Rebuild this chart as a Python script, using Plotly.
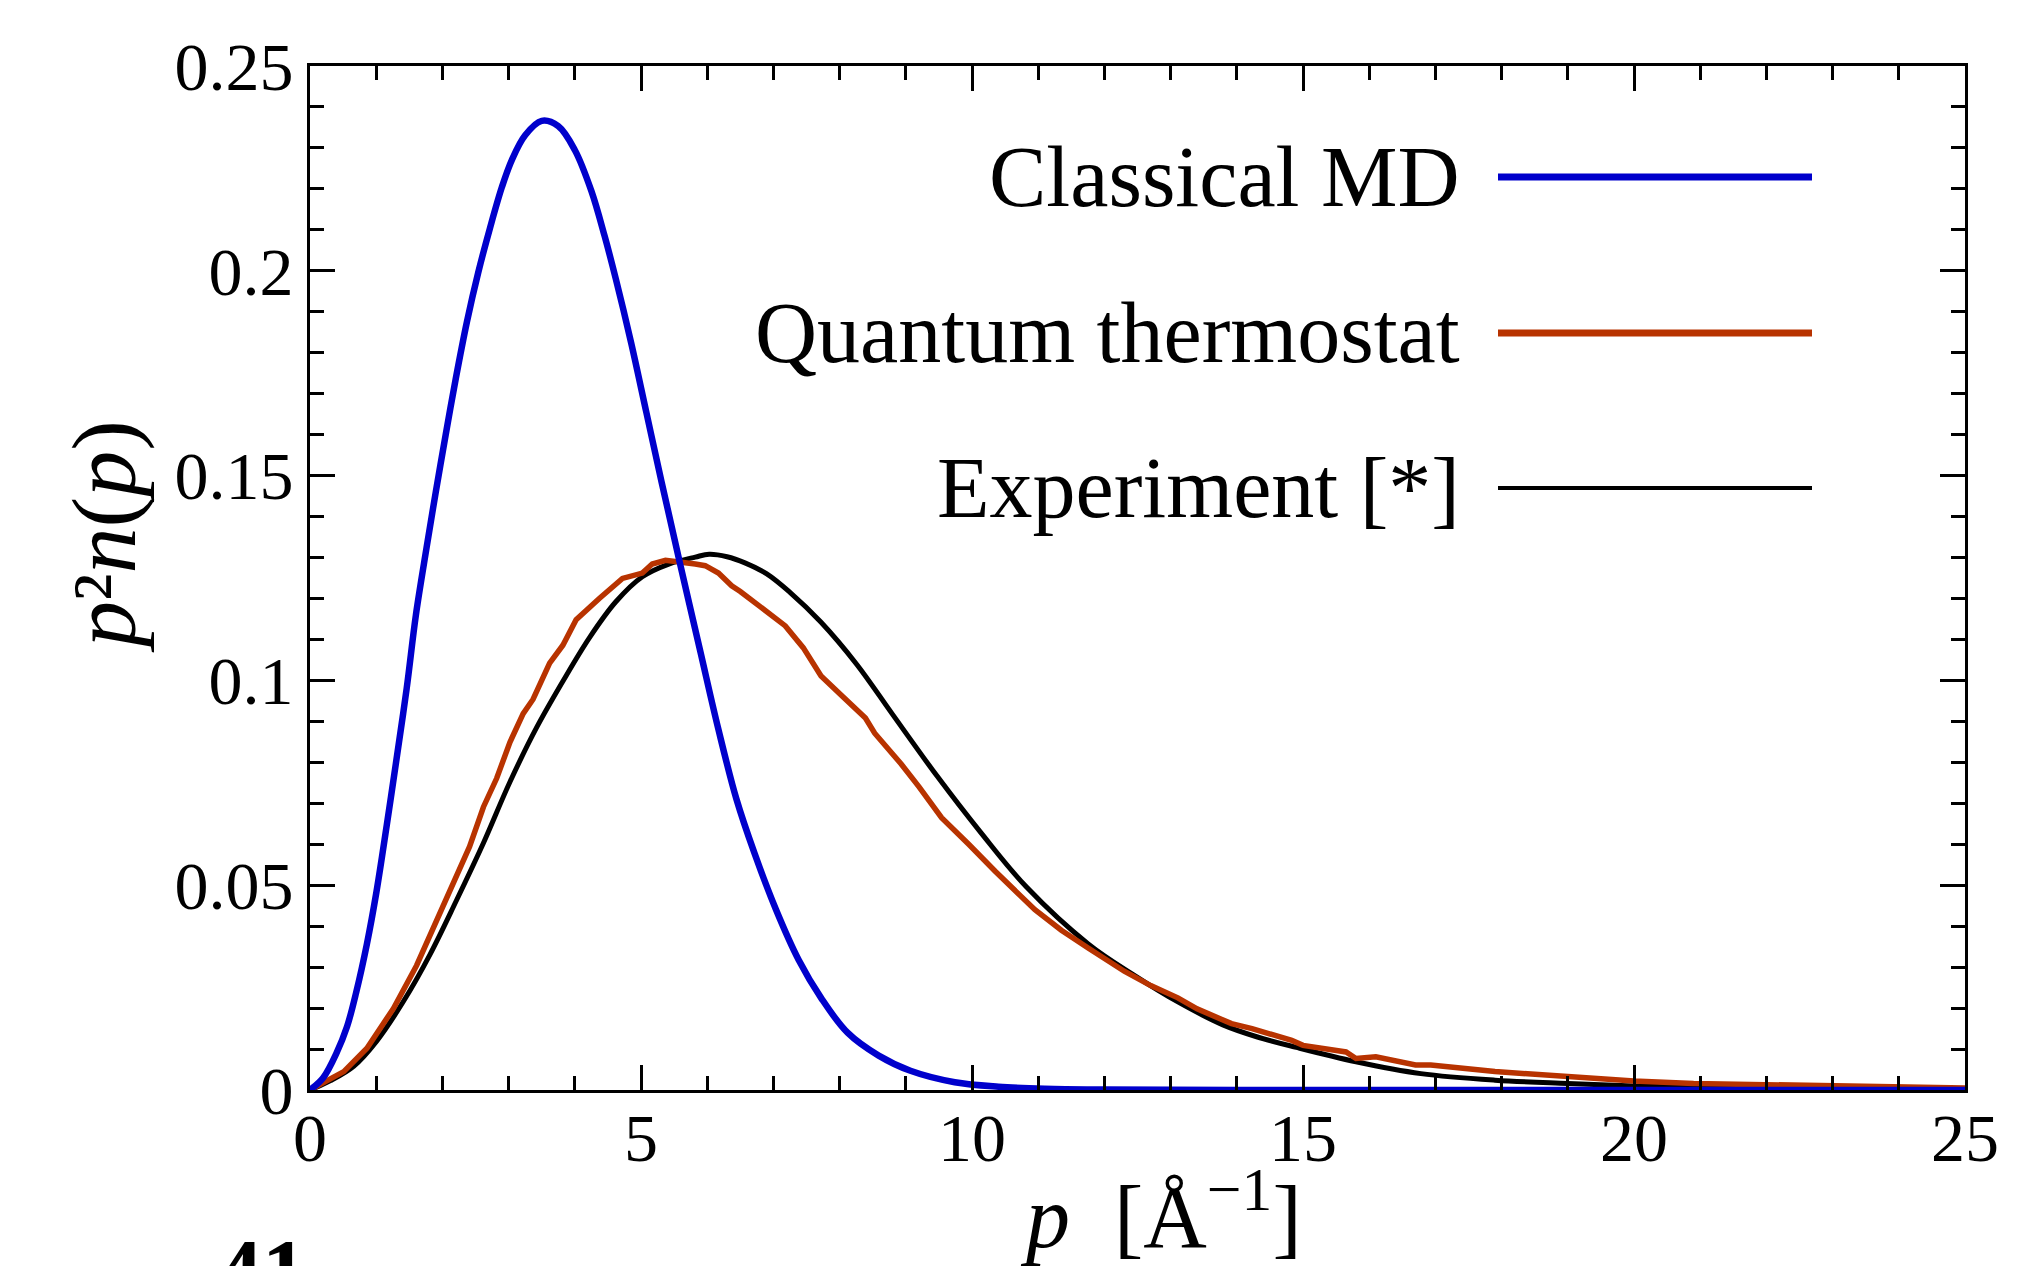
import plotly.graph_objects as go

# ---- data ----
classical_x = [0, 0.2, 0.4, 0.56, 0.7, 0.86, 1.0, 1.16, 1.3, 1.46, 1.6, 1.76, 1.9, 2.05, 2.2, 2.37,
               2.54, 2.72, 2.9, 3.05, 3.25, 3.5, 3.75, 4.0, 4.25, 4.45, 4.62, 4.85, 5.08, 5.31,
               5.59, 5.9, 6.17, 6.44, 6.71, 7.04, 7.38, 7.72, 8.12, 8.59, 9.07, 9.74, 10.4,
               11.1, 12, 14, 17, 20, 25]
classical_y = [0, 0.003, 0.009, 0.0155, 0.024, 0.0357, 0.048, 0.0647, 0.08, 0.098, 0.116, 0.1323,
               0.146, 0.160, 0.1735, 0.1875, 0.1995, 0.2105, 0.2205, 0.2271, 0.2331, 0.2366, 0.2353,
               0.2295, 0.2195, 0.2085, 0.198, 0.1825, 0.1655, 0.1485, 0.1285, 0.1068, 0.088, 0.0711,
               0.058, 0.044, 0.0318, 0.0225, 0.014, 0.0084, 0.0047, 0.0019, 0.0008, 0.0003,
               0.0001, 0, 0, 0, 0]

quantum_x = [0, 0.21, 0.51, 0.86, 1.26, 1.61, 2.01, 2.41, 2.62, 2.82, 3.02, 3.22, 3.37, 3.62, 3.82,
             4.02, 4.37, 4.72, 5.02, 5.17, 5.37, 5.57, 5.82, 5.97, 6.17, 6.37, 6.5, 6.8, 7.18,
             7.45, 7.72, 8.05, 8.39, 8.53, 8.93, 9.2, 9.54, 9.95, 10.35, 10.95, 11.35, 11.76,
             12.3, 12.7, 13.11, 13.4, 13.92, 14.23, 14.83, 15.0, 15.65, 15.8, 16.1, 16.7, 16.93,
             17.9, 19.0, 20.0, 20.9, 22.4, 23.9, 25]
quantum_y = [0, 0.0018, 0.0045, 0.0102, 0.0199, 0.0304, 0.0445, 0.0594, 0.0691, 0.0761, 0.0849,
             0.0919, 0.0954, 0.1042, 0.1086, 0.1148, 0.12, 0.1249, 0.1262, 0.1284, 0.1293, 0.129,
             0.1284, 0.128, 0.1262, 0.1231, 0.1217, 0.118, 0.1133, 0.108, 0.1011, 0.096, 0.0908,
             0.0871, 0.0796, 0.074, 0.0665, 0.06, 0.0534, 0.044, 0.039, 0.0346, 0.029, 0.0255,
             0.0225, 0.0198, 0.0162, 0.015, 0.0121, 0.0109, 0.0093, 0.0077, 0.0081, 0.0061,
             0.0061, 0.0045, 0.0032, 0.0022, 0.0016, 0.0012, 0.0008, 0.0005]

experiment_x = [0, 0.31, 0.66, 1.01, 1.41, 1.81, 2.21, 2.62, 3.02, 3.42, 3.82, 4.22, 4.62, 5.02,
                5.42, 5.82, 6.03, 6.3, 6.57, 6.9, 7.25, 7.72, 8.26, 8.8, 9.47, 10.14, 10.82,
                11.76, 12.44, 13.11, 13.79, 14.3, 14.9, 15.8, 16.78, 17.9, 19.0, 20.0, 20.9,
                22.5, 25]
experiment_y = [0, 0.0023, 0.0058, 0.012, 0.0216, 0.033, 0.0462, 0.0603, 0.0752, 0.0884, 0.0998,
                0.1104, 0.1192, 0.1253, 0.1284, 0.1301, 0.1308, 0.1302, 0.1287, 0.126, 0.1215,
                0.1142, 0.1039, 0.0917, 0.0767, 0.0627, 0.0496, 0.0356, 0.0281, 0.0215, 0.0159,
                0.013, 0.0104, 0.0069, 0.004, 0.0024, 0.0016, 0.001, 0.0007, 0.0003, 0.0001]

series_names = ["Classical MD", "Quantum thermostat", "Experiment [*]"]
series_colors = ["#0000CC", "#B83300", "#000000"]
x_ticks = [0, 5, 10, 15, 20, 25]
y_ticks = [0, 0.05, 0.1, 0.15, 0.2, 0.25]
y_ticktext = ["0", "0.05", "0.1", "0.15", "0.2", "0.25"]
fragment_text = "41"

FONT = "Liberation Serif"

fig = go.Figure()
fig.add_trace(go.Scatter(x=experiment_x, y=experiment_y, mode="lines", name=series_names[2],
                         line=dict(color=series_colors[2], width=5, shape="spline", smoothing=1.0)))
fig.add_trace(go.Scatter(x=quantum_x, y=quantum_y, mode="lines", name=series_names[1],
                         line=dict(color=series_colors[1], width=5.5)))
fig.add_trace(go.Scatter(x=classical_x, y=classical_y, mode="lines", name=series_names[0],
                         line=dict(color=series_colors[0], width=6.5, shape="spline", smoothing=1.0)))

L, R, T, B = 310, 64, 66, 176
W, H = 2029, 1266
pw, ph = W - L - R, H - T - B


def px(X):
    return (X - L) / pw


def py(Y):
    return (H - B - Y) / ph


axis_common = dict(
    showline=True, linecolor="black", linewidth=3, mirror="allticks",
    ticks="inside", tickwidth=3, tickcolor="black",
    showgrid=False, zeroline=False,
    tickfont=dict(family=FONT, size=68, color="black"),
)

fig.update_xaxes(range=[0, 25], tickvals=x_ticks, ticklen=25, ticklabelstandoff=-14,
                 minor=dict(dtick=1, ticklen=14, tickwidth=3, ticks="inside", tickcolor="black"),
                 **axis_common)
fig.update_yaxes(range=[0, 0.25], tickvals=y_ticks, ticktext=y_ticktext,
                 ticklen=25,
                 minor=dict(dtick=0.01, ticklen=14, tickwidth=3, ticks="inside", tickcolor="black"),
                 **axis_common)

annotations = []
shapes = []
legend_y = [177, 333, 488]
legend_w = [7, 7, 4]
for name, color, yy, lw in zip(series_names, series_colors, legend_y, legend_w):
    annotations.append(dict(text=name, x=px(1462), y=py(yy), xref="paper", yref="paper",
                            xanchor="right", yanchor="middle", showarrow=False,
                            font=dict(family=FONT, size=86, color="black")))
    shapes.append(dict(type="line", xref="paper", yref="paper",
                       x0=px(1498), x1=px(1812), y0=py(yy), y1=py(yy),
                       line=dict(color=color, width=lw)))

annotations.append(dict(text="<i>p</i>\u00a0\u00a0[Å<sup>\u22121</sup>]", x=px(1161), y=py(1268),
                        xref="paper", yref="paper", xanchor="center", yanchor="bottom",
                        showarrow=False, font=dict(family=FONT, size=88, color="black")))
annotations.append(dict(text="<i>p</i>\u00b2<i>n</i>(<i>p</i>)", x=px(104), y=py(537),
                        xref="paper", yref="paper", xanchor="center", yanchor="middle",
                        textangle=-90, showarrow=False,
                        font=dict(family=FONT, size=92, color="black")))
# cropped fragment of text at the bottom-left edge of the picture
annotations.append(dict(text="<b>" + fragment_text + "</b>", x=px(262), y=py(1220),
                        xref="paper", yref="paper", xanchor="center", yanchor="top",
                        showarrow=False, font=dict(family=FONT, size=90, color="black")))

fig.update_layout(
    width=W, height=H,
    margin=dict(l=L, r=R, t=T, b=B),
    paper_bgcolor="white", plot_bgcolor="white",
    showlegend=False,
    annotations=annotations, shapes=shapes,
)

fig.write_html("out.html")
